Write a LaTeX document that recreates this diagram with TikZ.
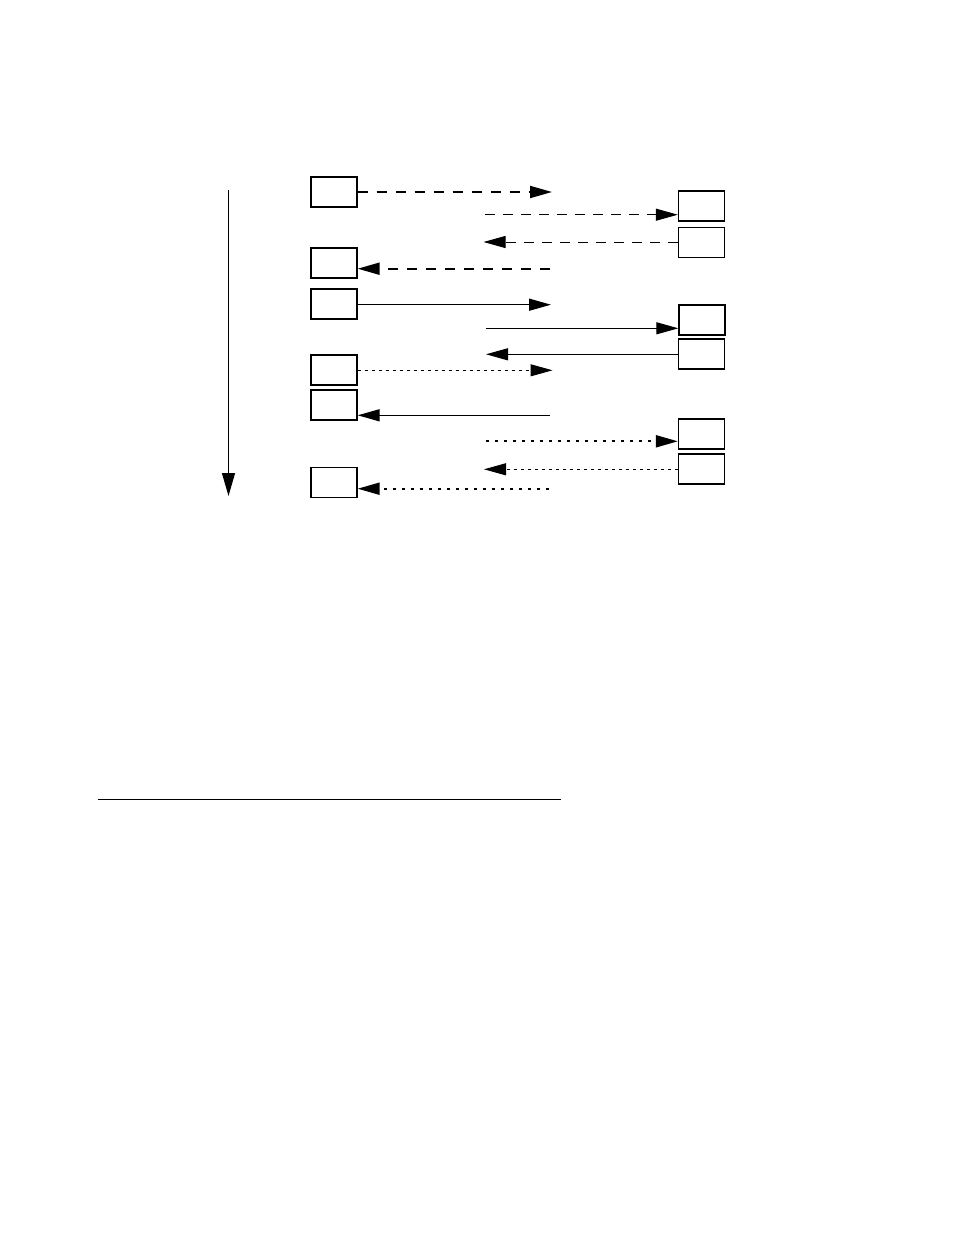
\documentclass[tikz,border=0pt]{standalone}
\usetikzlibrary{arrows.meta}
\begin{document}
\begin{tikzpicture}[x=0.75pt,y=-0.75pt]
\tikzset{
  box/.style={draw,line width=1pt,minimum width=34.5pt,minimum height=22.5pt,inner sep=0pt,fill=white},
  tip/.style={-{Triangle[length=16.5pt,width=9pt]}},
  thickdash/.style={tip,line width=1.5pt,dash pattern=on 7.5pt off 6.75pt},
  thindash/.style={tip,line width=0.75pt,dash pattern=on 7.5pt off 6pt},
  thinsolid/.style={tip,line width=0.8pt},
  thicksolid/.style={tip,line width=1.1pt},
  thindot/.style={tip,line width=0.75pt,dash pattern=on 2.25pt off 3pt},
  thickdot/.style={tip,line width=1.5pt,dash pattern=on 2.25pt off 4.5pt},
}
\useasboundingbox (0,0) rectangle (954,1235);
% timeline
\coordinate (t0) at (228.5,190);
\coordinate (t1) at (228.5,496);
\draw[line width=0.9pt,-{Triangle[length=17.25pt,width=9.75pt]}] (t0) -- (t1);
% left boxes
\node[box] (L1) at (334,192) {};
\node[box] (L2) at (334,263) {};
\node[box] (L3) at (334,304) {};
\node[box] (L4) at (334,370) {};
\node[box] (L5) at (334,405) {};
\node[box] (L6) at (334,482.5) {};
% right boxes
\node[box] (R1) at (701.5,206) {};
\node[box] (R2) at (701.5,242.5) {};
\node[box] (R3) at (702,320) {};
\node[box] (R4) at (701.5,354) {};
\node[box] (R5) at (701.5,434) {};
\node[box] (R6) at (701.5,469) {};
% free ends
\coordinate (c1) at (552,192);
\coordinate (c2) at (485,214.7);
\coordinate (c3) at (483.5,242);
\coordinate (c4) at (550,268.7);
\coordinate (c5) at (551,304.7);
\coordinate (c6) at (486,328.3);
\coordinate (c7) at (486,354.3);
\coordinate (c8) at (552.5,370.3);
\coordinate (c9) at (549.5,415.3);
\coordinate (c10) at (486,441.3);
\coordinate (c11) at (484,469.3);
\coordinate (c12) at (549,488.7);
% connectors
\draw[thickdash] (L1.east |- c1) -- (c1);
\draw[thindash] (c2) -- (R1.west |- c2);
\draw[thindash] (R2.west |- c3) -- (c3);
\draw[thickdash] (c4) -- (L2.east |- c4);
\draw[thicksolid] (L3.east |- c5) -- (c5);
\draw[thinsolid] (c6) -- (R3.west |- c6);
\draw[thinsolid] (R4.west |- c7) -- (c7);
\draw[thindot] (L4.east |- c8) -- (c8);
\draw[thicksolid] (c9) -- (L5.east |- c9);
\draw[thickdot] (c10) -- (R5.west |- c10);
\draw[thindot] (R6.west |- c11) -- (c11);
\draw[thickdot] (c12) -- (L6.east |- c12);
% rule
\coordinate (h0) at (97.7,799.3);
\coordinate (h1) at (561,799.3);
\draw[line width=0.8pt] (h0) -- (h1);
\end{tikzpicture}
\end{document}
